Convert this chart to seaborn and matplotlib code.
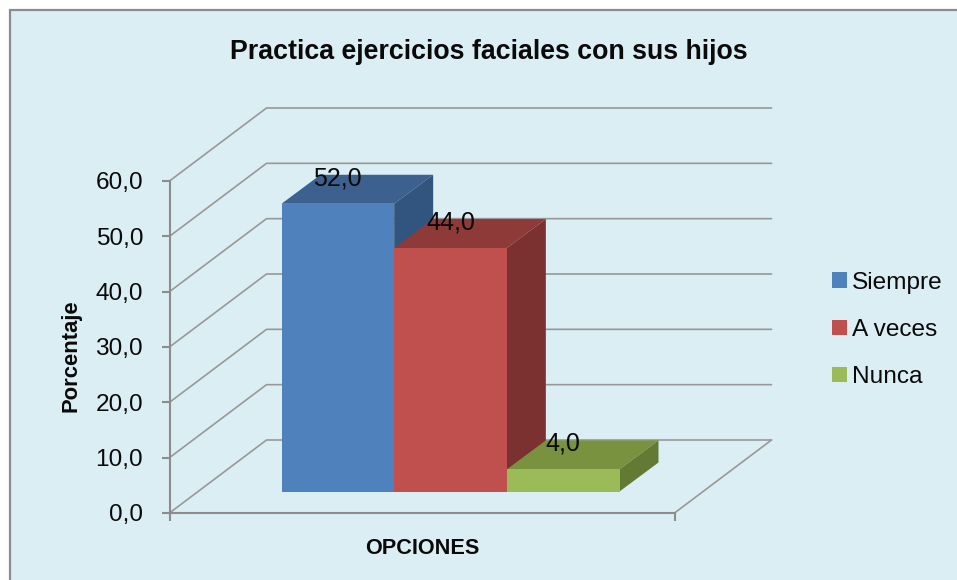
import matplotlib
matplotlib.use("Agg")
import matplotlib.pyplot as plt
from matplotlib.patches import Polygon, Rectangle
import pandas as pd
import seaborn as sns

title = "Practica ejercicios faciales con sus hijos"
ylabel = "Porcentaje"
xlabel = "OPCIONES"
series = ["Siempre", "A veces", "Nunca"]
values = [52.0, 44.0, 4.0]
yticks = [0, 10, 20, 30, 40, 50, 60]
front_colors = ["#4F81BD", "#C0504D", "#9BBB59"]
top_colors = ["#3C618F", "#8E3A38", "#789240"]
side_colors = ["#32557F", "#7A3130", "#637A35"]

sns.set_theme(style="white")
FONT = ["Liberation Sans", "DejaVu Sans"]
plt.rcParams["font.family"] = FONT
W, H = 957, 580
GRID = "#989898"
AXC = "#8C8C8C"
TXT = "#0A0A0A"

fig = plt.figure(figsize=(W / 100, H / 100), dpi=100, facecolor="white")
fig.add_artist(Rectangle((9.5 / W, -0.05), 1.1, 1.05 - 10.5 / H, transform=fig.transFigure,
                         facecolor="#DBEEF4", edgecolor=AXC, linewidth=1.6, zorder=-5))

def px_axes(l, t, r, b):
    return fig.add_axes([l / W, (H - b) / H, (r - l) / W, (b - t) / H], facecolor="none")

# wall / floor axes (front plane)
wall = px_axes(169.5, 181, 674.5, 513)
wall.set_xlim(0, 1)
wall.set_ylim(0, 60)
ddx, ddy = 97 / 505, 73 * 60 / 332
for v in yticks:
    wall.plot([0, ddx, 1 + ddx], [v, v + ddy, v + ddy], color=GRID, lw=1.2, clip_on=False, zorder=1)
wall.plot([1, 1 + ddx], [0, ddy], color=GRID, lw=1.2, clip_on=False, zorder=1)
for s in ["top", "right"]:
    wall.spines[s].set_visible(False)
for s in ["left", "bottom"]:
    wall.spines[s].set_color(AXC)
    wall.spines[s].set_linewidth(1.5)
wall.set_yticks(yticks)
wall.set_yticklabels([f"{v:.1f}".replace(".", ",") for v in yticks], fontsize=17.6, color=TXT)
wall.set_xticks([0, 1])
wall.set_xticklabels(["", ""])
wall.tick_params(axis="both", which="major", direction="out", length=6, width=1.5, color=AXC,
                 left=True, bottom=True, pad=13)
wall.tick_params(axis="y", pad=13)
wall.set_ylabel(ylabel, fontsize=15.8, fontweight="bold", color=TXT, labelpad=0)
wall.yaxis.set_label_coords((71 - 169.5) / 505, (513 - 356) / 332)
wall.yaxis.label.set_va("center")
wall.set_xlabel(xlabel, fontsize=15.6, fontweight="bold", color=TXT)
wall.xaxis.set_label_coords(0.5, (513 - 549) / 332)
wall.xaxis.label.set_va("center")

# bars axes (plane set back from the front)
bars = px_axes(198, 159.5, 703, 491.5)
df = pd.DataFrame({"grupo": [xlabel] * 3, "serie": series, "valor": values})
sns.barplot(data=df, x="grupo", y="valor", hue="serie", hue_order=series,
            palette=front_colors, width=338 / 505, dodge=True, gap=0, saturation=1,
            ax=bars, legend=True, errorbar=None)
bars.set_xlim(-0.5, 0.5)
bars.set_ylim(0, 60)
bars.axis("off")

bdx, bdy = 39 / 505, 29 * 60 / 332
for i, cont in enumerate(bars.containers):
    for p in cont:
        x0, w, h = p.get_x(), p.get_width(), p.get_height()
        p.set_zorder(3 + 2 * i)
        p.set_linewidth(0)
        x1 = x0 + w
        bars.add_patch(Polygon([(x0, h), (x1, h), (x1 + bdx, h + bdy), (x0 + bdx, h + bdy)],
                               closed=True, facecolor=top_colors[i], edgecolor="none",
                               zorder=2 + 2 * i, clip_on=False))
        bars.add_patch(Polygon([(x1, 0), (x1 + bdx, bdy), (x1 + bdx, h + bdy), (x1, h)],
                               closed=True, facecolor=side_colors[i], edgecolor="none",
                               zorder=2 + 2 * i, clip_on=False))
        bars.annotate(f"{h:.1f}".replace(".", ","), (x0 + w / 2, h), xytext=(0, 18.5),
                      textcoords="offset points", ha="center", va="center",
                      fontsize=18, color=TXT, zorder=20, annotation_clip=False)

handles, labels = bars.get_legend_handles_labels()
bars.get_legend().remove()
for hd in handles:
    hd.set_linewidth(0)
fig.legend(handles, labels, loc="center left", bbox_to_anchor=(832 / W, (H - 330) / H),
           frameon=False, fontsize=17.6, labelcolor=TXT, handlelength=0.6, handleheight=0.6,
           handletextpad=0.2, labelspacing=1.03, borderpad=0, borderaxespad=0)

fig.text(489 / W, (H - 52) / H, title, ha="center", va="center", fontsize=19.3,
         fontweight="bold", color=TXT)

fig.savefig("out.png", dpi=100, facecolor=fig.get_facecolor())
